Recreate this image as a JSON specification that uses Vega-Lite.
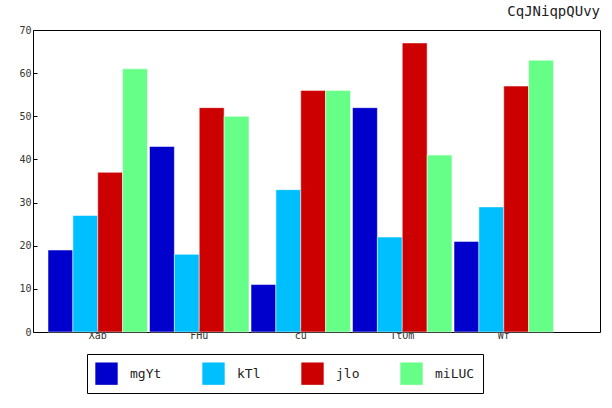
{
  "$schema": "https://vega.github.io/schema/vega-lite/v6.json",
  "width": 567,
  "height": 302,
  "autosize": {"type": "none"},
  "padding": {"left": 33, "top": 30, "right": 12, "bottom": 76},
  "background": "white",
  "title": {"text": "CqJNiqpQUvy", "anchor": "end", "font": "DejaVu Sans Mono", "fontSize": 14, "fontWeight": "normal", "color": "#222", "offset": 6},
  "config": {
    "view": {"stroke": "black", "strokeWidth": 1},
    "axis": {"labelFont": "DejaVu Sans Mono", "labelFontSize": 10, "labelColor": "#333", "grid": false, "domain": false, "tickColor": "black", "title": null}
  },
  "data": {"values": [
    {"c": "Xab", "s": "mgYt", "v": 19}, {"c": "Xab", "s": "kTl", "v": 27}, {"c": "Xab", "s": "jlo", "v": 37}, {"c": "Xab", "s": "miLUC", "v": 61},
    {"c": "FHu", "s": "mgYt", "v": 43}, {"c": "FHu", "s": "kTl", "v": 18}, {"c": "FHu", "s": "jlo", "v": 52}, {"c": "FHu", "s": "miLUC", "v": 50},
    {"c": "cu", "s": "mgYt", "v": 11}, {"c": "cu", "s": "kTl", "v": 33}, {"c": "cu", "s": "jlo", "v": 56}, {"c": "cu", "s": "miLUC", "v": 56},
    {"c": "TtOm", "s": "mgYt", "v": 52}, {"c": "TtOm", "s": "kTl", "v": 22}, {"c": "TtOm", "s": "jlo", "v": 67}, {"c": "TtOm", "s": "miLUC", "v": 41},
    {"c": "Wf", "s": "mgYt", "v": 21}, {"c": "Wf", "s": "kTl", "v": 29}, {"c": "Wf", "s": "jlo", "v": 57}, {"c": "Wf", "s": "miLUC", "v": 63}
  ]},
  "mark": {"type": "bar", "stroke": "white", "strokeWidth": 0.5},
  "encoding": {
    "x": {"field": "c", "type": "nominal", "sort": ["Xab", "FHu", "cu", "TtOm", "Wf"],
      "scale": {"paddingInner": 0.02, "paddingOuter": 0.303, "align": 0.244},
      "axis": {"labelAngle": 0, "ticks": true, "tickSize": -4, "labelPadding": 2}},
    "xOffset": {"field": "s", "sort": ["mgYt", "kTl", "jlo", "miLUC"], "scale": {"paddingInner": 0}},
    "y": {"field": "v", "type": "quantitative", "scale": {"domain": [0, 70]},
      "axis": {"values": [0, 10, 20, 30, 40, 50, 60, 70], "tickSize": -4, "labelPadding": 6}},
    "color": {"field": "s", "type": "nominal", "sort": ["mgYt", "kTl", "jlo", "miLUC"],
      "scale": {"domain": ["mgYt", "kTl", "jlo", "miLUC"], "range": ["#0000cc", "#00bfff", "#cc0000", "#66ff88"]},
      "legend": {"title": null, "orient": "none", "direction": "horizontal", "legendX": 54, "legendY": 324,
        "symbolType": "square", "symbolSize": 500, "symbolStrokeWidth": 0, "labelFont": "DejaVu Sans Mono", "labelFontSize": 13, "labelColor": "#222",
        "columnPadding": 40, "padding": 8, "strokeColor": "black", "fillColor": "white", "labelOffset": 12}}
  }
}
